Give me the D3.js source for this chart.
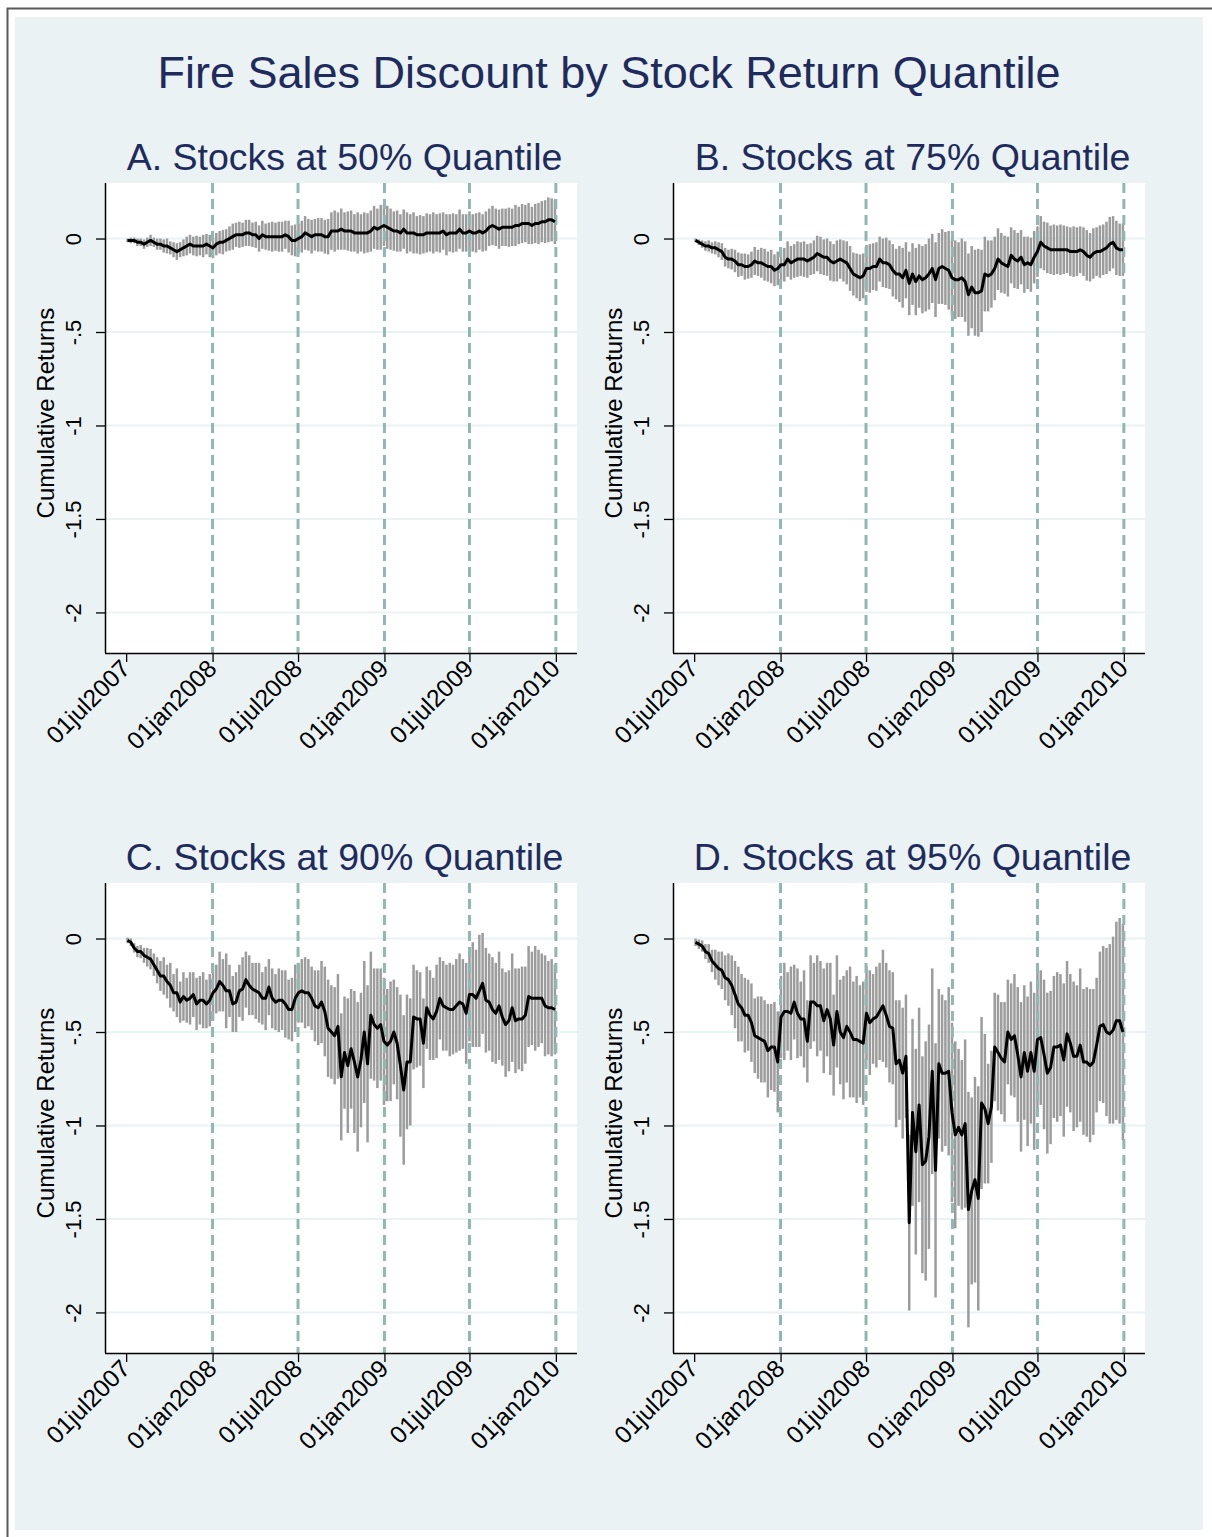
<!DOCTYPE html>
<html><head><meta charset="utf-8">
<script src="https://cdn.jsdelivr.net/npm/d3@7"></script>
<style>body{margin:0;background:#fff} svg{display:block} text{font-family:"Liberation Sans",Arial,sans-serif}</style>
</head><body><svg id="c" width="1212" height="1537"></svg>
<script>
// ---------------- data ----------------
const mainTitle = "Fire Sales Discount by Stock Return Quantile";
const panelTitles = ["A. Stocks at 50% Quantile","B. Stocks at 75% Quantile","C. Stocks at 90% Quantile","D. Stocks at 95% Quantile"];
const yAxisTitle = "Cumulative Returns";
const firstWeek = "2007-07-04";   // weekly observations, 131 weeks
const xTickDates = ["2007-07-01","2008-01-01","2008-07-01","2009-01-01","2009-07-01","2010-01-01"];
const xTickLabels = ["01jul2007","01jan2008","01jul2008","01jan2009","01jul2009","01jan2010"];
const xLineDates = ["2008-01-01","2008-07-01","2009-01-01","2009-07-01","2010-01-01"];
const yTicks = [0,-0.5,-1,-1.5,-2];
const yTickLabels = ["0","-.5","-1","-1.5","-2"];

const meanA = [-0.01,-0.01,-0.01,-0.02,-0.02,-0.03,-0.02,-0.01,-0.02,-0.03,
 -0.03,-0.04,-0.04,-0.05,-0.06,-0.07,-0.06,-0.05,-0.04,-0.03,
 -0.04,-0.04,-0.04,-0.04,-0.03,-0.04,-0.05,-0.03,-0.02,-0.02,
 -0.01,0.00,0.01,0.02,0.02,0.02,0.03,0.03,0.02,0.02,
 0.00,0.02,0.01,0.01,0.01,0.01,0.01,0.01,0.02,0.01,
 -0.01,-0.01,0.00,0.01,0.03,0.02,0.01,0.02,0.02,0.02,
 0.01,0.01,0.04,0.04,0.04,0.05,0.04,0.04,0.04,0.03,
 0.03,0.03,0.03,0.03,0.04,0.06,0.05,0.06,0.07,0.06,
 0.05,0.04,0.04,0.03,0.05,0.03,0.03,0.03,0.02,0.02,
 0.02,0.03,0.03,0.03,0.03,0.03,0.04,0.02,0.03,0.03,
 0.03,0.05,0.03,0.03,0.04,0.03,0.03,0.04,0.03,0.04,
 0.06,0.07,0.06,0.05,0.06,0.06,0.06,0.06,0.07,0.07,
 0.08,0.08,0.08,0.07,0.08,0.08,0.09,0.09,0.10,0.10,
 0.09];
const ciA = [.01,.015,.015,.02,.02,.025,.025,.03,.025,.03,
 .03,.035,.04,.035,.04,.045,.04,.045,.05,.05,
 .05,.055,.05,.06,.055,.06,.055,.06,.06,.065,
 .06,.065,.07,.065,.07,.065,.07,.07,.065,.07,
 .07,.075,.07,.075,.08,.075,.08,.08,.075,.085,
 .08,.085,.08,.085,.09,.085,.09,.085,.09,.09,
 .09,.095,.1,.11,.1,.11,.1,.105,.11,.1,
 .11,.1,.11,.105,.11,.115,.11,.12,.11,.115,
 .11,.105,.11,.1,.105,.11,.1,.11,.1,.105,
 .1,.105,.1,.11,.1,.105,.1,.11,.1,.105,
 .1,.105,.1,.1,.105,.1,.105,.1,.1,.105,
 .1,.105,.1,.105,.1,.1,.105,.1,.11,.1,
 .105,.1,.11,.1,.105,.11,.11,.115,.12,.115,
 .12];

const meanB = [-0.01,-0.02,-0.03,-0.04,-0.04,-0.05,-0.05,-0.06,-0.07,-0.10,
 -0.11,-0.11,-0.12,-0.14,-0.14,-0.15,-0.15,-0.14,-0.12,-0.13,
 -0.13,-0.14,-0.15,-0.15,-0.17,-0.16,-0.14,-0.14,-0.11,-0.13,
 -0.12,-0.11,-0.11,-0.11,-0.12,-0.11,-0.10,-0.08,-0.09,-0.10,
 -0.10,-0.12,-0.13,-0.12,-0.11,-0.12,-0.13,-0.16,-0.19,-0.20,
 -0.21,-0.20,-0.16,-0.16,-0.15,-0.15,-0.11,-0.13,-0.13,-0.14,
 -0.17,-0.19,-0.19,-0.21,-0.17,-0.24,-0.19,-0.23,-0.20,-0.22,
 -0.21,-0.19,-0.16,-0.22,-0.16,-0.15,-0.16,-0.17,-0.21,-0.22,
 -0.22,-0.21,-0.23,-0.30,-0.26,-0.29,-0.29,-0.28,-0.19,-0.20,
 -0.19,-0.16,-0.11,-0.13,-0.14,-0.15,-0.09,-0.11,-0.12,-0.10,
 -0.14,-0.13,-0.14,-0.10,-0.07,-0.02,-0.04,-0.05,-0.06,-0.06,
 -0.06,-0.06,-0.06,-0.06,-0.07,-0.07,-0.07,-0.06,-0.07,-0.09,
 -0.10,-0.08,-0.07,-0.07,-0.06,-0.05,-0.03,-0.02,-0.05,-0.06,
 -0.06];
const ciB = [.01,.015,.02,.025,.03,.03,.035,.04,.045,.05,
 .05,.055,.06,.065,.06,.07,.065,.07,.075,.07,
 .08,.085,.08,.09,.085,.09,.085,.09,.095,.09,
 .09,.095,.09,.095,.09,.085,.09,.095,.1,.095,
 .1,.105,.1,.11,.105,.11,.115,.12,.115,.12,
 .125,.12,.125,.13,.125,.13,.12,.13,.135,.13,
 .14,.135,.15,.16,.15,.17,.165,.18,.17,.18,
 .18,.19,.185,.2,.19,.2,.195,.21,.2,.21,
 .2,.21,.215,.22,.22,.23,.235,.22,.2,.19,
 .18,.17,.165,.16,.155,.16,.15,.155,.15,.145,
 .15,.14,.145,.14,.135,.14,.13,.135,.13,.135,
 .13,.135,.13,.125,.13,.135,.13,.125,.13,.135,
 .13,.135,.13,.14,.135,.14,.145,.14,.145,.14,
 .14];

const meanC = [-0.01,-0.02,-0.05,-0.07,-0.07,-0.09,-0.10,-0.11,-0.14,-0.17,
 -0.20,-0.20,-0.23,-0.25,-0.29,-0.29,-0.34,-0.31,-0.33,-0.32,
 -0.30,-0.35,-0.33,-0.33,-0.35,-0.33,-0.29,-0.27,-0.23,-0.25,
 -0.28,-0.28,-0.35,-0.34,-0.28,-0.27,-0.22,-0.25,-0.27,-0.28,
 -0.29,-0.32,-0.32,-0.26,-0.32,-0.34,-0.33,-0.33,-0.35,-0.38,
 -0.38,-0.32,-0.29,-0.28,-0.29,-0.29,-0.32,-0.36,-0.37,-0.34,
 -0.39,-0.48,-0.50,-0.52,-0.47,-0.74,-0.61,-0.68,-0.59,-0.66,
 -0.74,-0.65,-0.50,-0.67,-0.41,-0.46,-0.48,-0.46,-0.55,-0.57,
 -0.55,-0.50,-0.56,-0.68,-0.81,-0.66,-0.66,-0.42,-0.43,-0.43,
 -0.56,-0.37,-0.41,-0.43,-0.39,-0.32,-0.36,-0.37,-0.38,-0.38,
 -0.36,-0.34,-0.35,-0.40,-0.30,-0.30,-0.32,-0.28,-0.24,-0.33,
 -0.34,-0.38,-0.40,-0.36,-0.42,-0.46,-0.44,-0.37,-0.44,-0.43,
 -0.43,-0.41,-0.31,-0.32,-0.32,-0.32,-0.32,-0.36,-0.37,-0.37,
 -0.38];
const ciC = [.015,.02,.025,.03,.035,.04,.05,.055,.06,.07,
 .08,.1,.09,.12,.1,.13,.11,.13,.12,.14,
 .12,.14,.13,.15,.13,.14,.15,.13,.16,.14,
 .2,.14,.15,.16,.14,.17,.15,.16,.14,.15,
 .16,.14,.17,.15,.16,.15,.17,.16,.18,.16,
 .17,.18,.16,.17,.19,.18,.17,.19,.2,.22,
 .24,.26,.25,.26,.28,.34,.3,.36,.32,.38,
 .4,.36,.38,.42,.34,.3,.32,.3,.34,.3,
 .32,.28,.3,.38,.4,.36,.34,.28,.26,.25,
 .24,.22,.24,.22,.25,.22,.24,.23,.25,.24,
 .25,.26,.24,.27,.25,.28,.26,.3,.27,.28,
 .26,.28,.27,.29,.26,.28,.27,.29,.28,.27,
 .28,.26,.27,.25,.28,.26,.24,.27,.25,.26,
 .24];

const meanD = [-0.02,-0.03,-0.04,-0.07,-0.08,-0.12,-0.14,-0.16,-0.17,-0.21,
 -0.22,-0.25,-0.30,-0.35,-0.37,-0.41,-0.41,-0.45,-0.52,-0.53,
 -0.54,-0.55,-0.60,-0.58,-0.58,-0.66,-0.42,-0.39,-0.39,-0.40,
 -0.34,-0.40,-0.43,-0.43,-0.55,-0.34,-0.34,-0.36,-0.36,-0.44,
 -0.38,-0.43,-0.57,-0.39,-0.50,-0.53,-0.47,-0.50,-0.54,-0.54,
 -0.55,-0.56,-0.40,-0.45,-0.43,-0.42,-0.39,-0.36,-0.41,-0.47,
 -0.48,-0.67,-0.65,-0.72,-0.63,-1.52,-0.93,-1.14,-0.89,-1.21,
 -1.19,-1.06,-0.71,-1.24,-0.67,-0.72,-0.72,-0.71,-0.93,-1.05,
 -1.01,-1.05,-0.99,-1.45,-1.35,-1.29,-1.39,-0.88,-0.91,-0.99,
 -0.90,-0.58,-0.61,-0.64,-0.66,-0.50,-0.54,-0.52,-0.62,-0.74,
 -0.61,-0.71,-0.61,-0.71,-0.54,-0.53,-0.62,-0.72,-0.69,-0.58,
 -0.58,-0.57,-0.65,-0.51,-0.56,-0.63,-0.63,-0.57,-0.66,-0.66,
 -0.68,-0.66,-0.57,-0.47,-0.46,-0.50,-0.51,-0.49,-0.44,-0.44,
 -0.50];
const ciD = [.02,.025,.03,.04,.05,.06,.08,.09,.1,.12,
 .14,.16,.18,.2,.18,.2,.19,.21,.2,.22,
 .23,.22,.25,.23,.24,.27,.22,.26,.21,.25,
 .2,.24,.2,.26,.22,.25,.21,.27,.24,.28,
 .25,.3,.27,.3,.28,.33,.3,.35,.31,.34,
 .3,.33,.25,.28,.24,.27,.26,.3,.28,.3,
 .3,.34,.32,.35,.33,.47,.5,.55,.52,.58,
 .64,.6,.55,.68,.4,.42,.39,.45,.48,.5,
 .42,.4,.45,.63,.5,.55,.6,.46,.4,.32,
 .3,.29,.31,.3,.32,.28,.3,.33,.36,.4,
 .36,.4,.38,.42,.39,.36,.4,.43,.41,.38,
 .4,.38,.41,.39,.37,.4,.38,.41,.39,.4,
 .41,.39,.36,.4,.42,.45,.48,.5,.53,.55,
 .58];

// ---------------- drawing ----------------
const svg = d3.select("#c");
const parse = d3.utcParse("%Y-%m-%d");
const t0 = parse(firstWeek);
const weeks = meanA.map((_, i) => d3.utcDay.offset(t0, 7 * i));

const COL_BG = "#EAF2F3", COL_TITLE = "#1E2B5C", COL_BAR = "#9C9C9C", COL_VLINE = "#8FB8B0";

// outer frame
svg.append("rect").attr("x",0).attr("y",0).attr("width",1212).attr("height",1537).attr("fill","#fff");
svg.append("path").attr("d","M7.5,1537 V8.5 H1212").attr("fill","none").attr("stroke","#5a5a5a").attr("stroke-width",2);
svg.append("rect").attr("x",15).attr("y",17).attr("width",1188).attr("height",1513).attr("fill",COL_BG);

svg.append("text").attr("x",609).attr("y",88).attr("text-anchor","middle")
  .attr("font-size",45).attr("fill",COL_TITLE).text(mainTitle);

const W = 472, H = 470;
const x = d3.scaleUtc().domain([parse("2007-05-17"), parse("2010-02-15")]).range([0, W]);
const y = d3.scaleLinear().domain([-2.217, 0.297]).range([H, 0]);

const panels = [
  {left:105, top:183, title:panelTitles[0], mean:meanA, ci:ciA},
  {left:673, top:183, title:panelTitles[1], mean:meanB, ci:ciB},
  {left:105, top:883, title:panelTitles[2], mean:meanC, ci:ciC},
  {left:673, top:883, title:panelTitles[3], mean:meanD, ci:ciD}
];

panels.forEach((p, k) => {
  const g = svg.append("g").attr("transform", `translate(${p.left},${p.top})`);
  svg.append("text").attr("x", p.left + 239.5).attr("y", p.top - 13).attr("text-anchor","middle")
    .attr("font-size",37.5).attr("fill",COL_TITLE).text(p.title);

  g.append("rect").attr("width",W).attr("height",H).attr("fill","#fff");
  const clipId = "clip" + k;
  g.append("clipPath").attr("id",clipId).append("rect").attr("width",W).attr("height",H);

  // grid
  g.selectAll(".grid").data(yTicks).join("line")
    .attr("x1",0).attr("x2",W).attr("y1",d=>y(d)).attr("y2",d=>y(d))
    .attr("stroke",COL_BG).attr("stroke-width",2);

  const pg = g.append("g").attr("clip-path",`url(#${clipId})`);
  // CI spikes
  pg.selectAll(".ci").data(p.mean).join("line")
    .attr("x1",(d,i)=>x(weeks[i])).attr("x2",(d,i)=>x(weeks[i]))
    .attr("y1",(d,i)=>y(d - p.ci[i])).attr("y2",(d,i)=>y(d + p.ci[i]))
    .attr("stroke",COL_BAR).attr("stroke-width",2.5);
  // dashed reference lines
  pg.selectAll(".vl").data(xLineDates).join("line")
    .attr("x1",d=>x(parse(d))).attr("x2",d=>x(parse(d))).attr("y1",0).attr("y2",H)
    .attr("stroke",COL_VLINE).attr("stroke-width",3).attr("stroke-dasharray","10,6");
  // mean line
  pg.append("path").datum(p.mean)
    .attr("d", d3.line().x((d,i)=>x(weeks[i])).y(d=>y(d)))
    .attr("fill","none").attr("stroke","#000").attr("stroke-width",3).attr("stroke-linejoin","round");

  // y axis
  const ya = g.append("g").call(d3.axisLeft(y).tickValues(yTicks).tickSize(9).tickFormat((d,i)=>yTickLabels[i]));
  ya.select(".domain").attr("stroke","#000").attr("stroke-width",1.5).attr("d",`M0.5,0V${H}`);
  ya.selectAll(".tick line").attr("stroke","#000").attr("stroke-width",1.3);
  ya.selectAll(".tick text").attr("font-size",22).attr("fill","#000")
    .attr("text-anchor","middle").attr("x",null).attr("dy",null)
    .attr("transform","translate(-24,0) rotate(-90)");

  // x axis
  const xa = g.append("g").attr("transform",`translate(0,${H})`)
    .call(d3.axisBottom(x).tickValues(xTickDates.map(parse)).tickSize(9).tickFormat((d,i)=>xTickLabels[i]));
  xa.select(".domain").attr("stroke","#000").attr("stroke-width",1.5).attr("d",`M0,0.5H${W}`);
  xa.selectAll(".tick line").attr("stroke","#000").attr("stroke-width",1.3);
  xa.selectAll(".tick text").attr("font-size",24.5).attr("fill","#000")
    .attr("text-anchor","end").attr("y",null).attr("dy",null)
    .attr("transform","translate(5,17) rotate(-45)");

  svg.append("text").attr("transform",`translate(${p.left-51},${p.top+230}) rotate(-90)`)
    .attr("text-anchor","middle").attr("font-size",24).attr("fill","#000").text(yAxisTitle);
});
</script></body></html>
